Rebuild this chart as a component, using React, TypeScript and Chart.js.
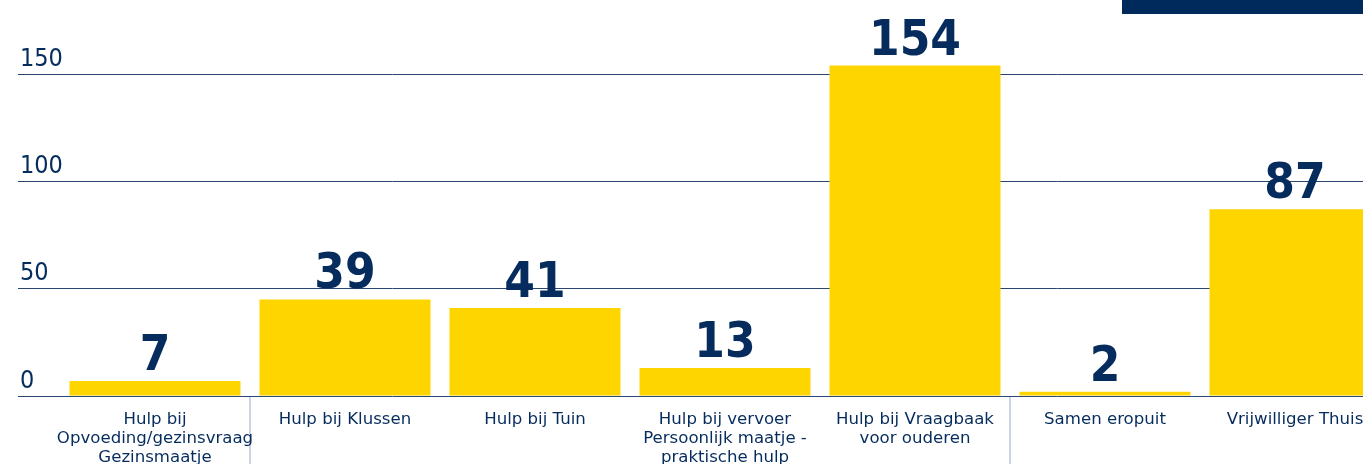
import React, { useEffect, useRef } from "react";
import { Chart, registerables } from "chart.js";

Chart.register(...registerables);

const categories: string[][] = [
  ["Hulp bij", "Opvoeding/gezinsvraag", "Gezinsmaatje"],
  ["Hulp bij Klussen"],
  ["Hulp bij Tuin"],
  ["Hulp bij vervoer", "Persoonlijk maatje -", "praktische hulp"],
  ["Hulp bij Vraagbaak", "voor ouderen"],
  ["Samen eropuit"],
  ["Vrijwilliger Thuis"],
];
const barValues: number[] = [7, 45, 41, 13, 154, 2, 87];
const valueLabels: string[] = ["7", "39", "41", "13", "154", "2", "87"];
const yTicks: number[] = [0, 50, 100, 150];

const NAVY = "#062c5e";
const YELLOW = "#FFD500";

const valueLabelPlugin = {
  id: "valueLabels",
  afterDatasetsDraw(chart: any) {
    const ctx = chart.ctx;
    const meta = chart.getDatasetMeta(0);
    ctx.save();
    ctx.fillStyle = NAVY;
    ctx.font = "bold 49px 'DejaVu Sans Condensed', 'DejaVu Sans', sans-serif";
    ctx.textAlign = "center";
    ctx.textBaseline = "alphabetic";
    meta.data.forEach((el: any, i: number) => {
      ctx.fillText(valueLabels[i], el.x, el.y - 11);
    });
    ctx.restore();
  },
};

export default function App() {
  const ref = useRef<HTMLCanvasElement | null>(null);
  useEffect(() => {
    if (!ref.current) return;
    const chart = new Chart(ref.current, {
      type: "bar",
      data: {
        labels: categories,
        datasets: [
          {
            data: barValues,
            backgroundColor: YELLOW,
            barPercentage: 0.9,
            categoryPercentage: 1.0,
          },
        ],
      },
      options: {
        animation: false,
        responsive: false,
        layout: { padding: { left: 20, top: 42, right: 0, bottom: 0 } },
        plugins: { legend: { display: false }, tooltip: { enabled: false } },
        scales: {
          x: {
            border: { display: false },
            afterFit: (s: any) => {
              s.height = 68;
              s.paddingLeft = 0;
              s.paddingRight = 0;
            },
            grid: {
              drawOnChartArea: false,
              drawTicks: true,
              tickLength: 68,
              lineWidth: 2,
              color: (c: any) => (c.index === 1 || c.index === 5 ? "#cdd4e3" : "rgba(0,0,0,0)"),
            },
            ticks: {
              autoSkip: false,
              maxRotation: 0,
              minRotation: 0,
              padding: -54,
              color: NAVY,
              font: { family: "'DejaVu Sans', sans-serif", size: 16.6, lineHeight: 1.145 },
            },
          },
          y: {
            min: 0,
            max: 165,
            border: { display: false },
            afterBuildTicks: (scale: any) => {
              scale.ticks = yTicks.map((v) => ({ value: v }));
            },
            afterFit: (s: any) => {
              s.width = 40;
              s.paddingTop = 0;
              s.paddingBottom = 0;
            },
            grid: {
              color: "#2a4670",
              lineWidth: 1,
              drawTicks: true,
              tickLength: 42,
            },
            ticks: {
              mirror: true,
              padding: -40,
              labelOffset: -15,
              crossAlign: "near",
              color: NAVY,
              font: { family: "'DejaVu Sans Condensed', 'DejaVu Sans', sans-serif", size: 25 },
            },
          },
        },
      },
      plugins: [valueLabelPlugin],
    } as any);
    return () => chart.destroy();
  }, []);

  return (
    <div
      style={{
        position: "absolute",
        left: 0,
        top: 0,
        width: 1363,
        height: 464,
        overflow: "hidden",
        background: "#fff",
      }}
    >
      <canvas ref={ref} width={1390} height={464} style={{ display: "block", width: 1390, height: 464 }} />
      <div
        style={{
          position: "absolute",
          left: 1122,
          top: 0,
          width: 241,
          height: 14,
          background: "#002a5c",
        }}
      />
    </div>
  );
}
